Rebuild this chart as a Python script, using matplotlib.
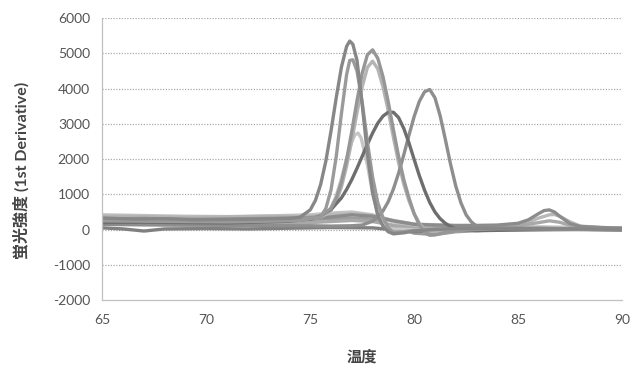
import matplotlib
matplotlib.use('Agg')
import matplotlib.pyplot as plt

plt.rcParams['axes.unicode_minus'] = False

# melt curve derivative data
A_x = [65, 66.5, 68, 69.5, 71, 72.5, 74, 74.5, 75, 75.25, 75.5, 75.75, 76, 76.25, 76.5, 76.75, 76.9, 77.05, 77.25,
       77.5, 77.75, 78, 78.25, 78.5, 78.75, 79, 79.5, 80, 81, 82, 84, 86, 88, 90]
A_y = [330, 300, 310, 280, 290, 300, 320, 350, 560, 830, 1280, 1940, 2800, 3740, 4610, 5200, 5350, 5260, 4800,
       3550, 2150, 1050, 400, 100, -60, -120, -90, -40, 10, 30, 40, 30, 20, 0]

B_x = [65, 67, 69, 71, 73, 74.5, 75.5, 75.75, 76, 76.25, 76.5, 76.75, 76.9, 77.05, 77.25, 77.5, 77.75, 78, 78.25,
       78.5, 78.75, 79, 79.5, 80, 82, 84, 86, 88, 90]
B_y = [250, 240, 230, 220, 240, 260, 360, 600, 1130, 2070, 3290, 4400, 4800, 4820, 4500, 3610, 2490, 1490, 760,
       340, 60, -80, -60, -20, 20, 30, 20, 10, 0]

C_x = [65, 67, 69, 71, 73, 74.5, 75.5, 76, 76.25, 76.5, 76.75, 77, 77.25, 77.5, 77.75, 78, 78.25, 78.5, 78.75,
       79, 79.25, 79.5, 79.75, 80, 80.25, 80.5, 80.75, 81, 81.5, 82, 84, 86, 88, 90]
C_y = [300, 320, 290, 300, 320, 330, 360, 600, 890, 1340, 1990, 2790, 3660, 4440, 4960, 5100, 4860, 4340, 3630,
       2840, 2080, 1420, 900, 450, 140, -80, -160, -150, -80, -20, 30, 40, 20, 0]

D_x = [65, 67, 69, 71, 73, 75, 75.5, 75.75, 76, 76.25, 76.5, 76.75, 77, 77.15, 77.3, 77.45, 77.75, 78, 78.25,
       78.5, 78.75, 79, 80, 82, 84, 86, 88, 90]
D_y = [280, 270, 260, 270, 290, 320, 350, 440, 630, 960, 1450, 2010, 2500, 2690, 2740, 2600, 1840, 1030, 450,
       150, 50, 20, 0, 10, 20, 10, 0, -10]

E_x = [65, 67, 69, 71, 73, 74, 75, 75.5, 76, 76.5, 76.75, 77, 77.25, 77.5, 77.75, 78, 78.25, 78.5, 78.75, 79,
       79.25, 79.5, 79.75, 80, 80.25, 80.5, 80.75, 81, 81.25, 81.5, 81.75, 82, 83, 84, 86, 88, 90]
E_y = [200, 210, 200, 190, 220, 240, 300, 390, 570, 900, 1140, 1420, 1740, 2080, 2420, 2740, 3020, 3220, 3330,
       3330, 3180, 2870, 2460, 1990, 1530, 1120, 770, 500, 310, 180, 90, 20, -30, -20, 0, 10, 0]

F_x = [65, 67, 69, 71, 73, 75, 76, 77, 77.5, 78, 78.25, 78.5, 78.75, 79, 79.25, 79.5, 79.75, 80, 80.25, 80.5,
       80.75, 81, 81.25, 81.5, 81.75, 82, 82.25, 82.5, 82.75, 83, 83.5, 84, 86, 88, 90]
F_y = [150, 140, 130, 120, 110, 110, 100, 110, 130, 240, 360, 530, 790, 1150, 1600, 2120, 2680, 3210, 3640, 3910,
       3975, 3740, 3230, 2560, 1860, 1240, 760, 420, 220, 100, 20, 0, 0, 10, 0]

G_x = [65, 67, 69, 71, 73, 75, 75.5, 76, 76.25, 76.5, 76.75, 77, 77.25, 77.5, 77.75, 78, 78.25, 78.5, 78.75,
       79, 79.25, 79.5, 79.75, 80, 80.25, 80.5, 81, 82, 84, 86, 88, 90]
G_y = [380, 370, 350, 360, 380, 360, 370, 560, 800, 1210, 1800, 2530, 3320, 4050, 4600, 4780, 4560, 4050, 3380,
       2620, 1900, 1290, 820, 450, 180, 0, -60, 0, 20, 10, 0, -10]

H_x = [65, 66, 67, 68, 70, 72, 74, 75, 76, 77, 78, 79, 80, 81, 82, 83, 84, 85, 85.5, 86, 86.25, 86.5, 86.75, 87,
       87.5, 88, 89, 90]
H_y = [250, 240, 200, 230, 220, 230, 260, 300, 360, 420, 380, 250, 150, 130, 120, 120, 130, 180, 280, 460, 540,
       560, 500, 380, 170, 90, 60, 40]

I_x = [65, 67, 69, 71, 73, 75, 76, 77, 78, 79, 80, 82, 84, 85, 85.5, 86, 86.5, 86.75, 87, 87.5, 88, 89, 90]
I_y = [350, 340, 330, 320, 340, 380, 420, 450, 400, 260, 160, 110, 110, 140, 220, 330, 420, 430, 380, 220, 100,
       60, 50]

J_x = [65, 67, 69, 71, 73, 75, 77, 78, 79, 80, 82, 84, 85, 86, 86.5, 87, 87.5, 88, 90]
J_y = [150, 140, 130, 150, 160, 200, 260, 230, 120, 40, 60, 80, 110, 200, 250, 210, 120, 60, 30]

K_x = [65, 66, 67, 68, 70, 72, 74, 76, 78, 79, 80, 81, 82, 84, 86, 88, 90]
K_y = [50, 20, -40, 20, 30, 20, 40, 60, 50, 0, -60, -30, 0, 20, 30, 20, 30]

L_x = [65, 67, 69, 71, 73, 75, 76, 77, 78, 79, 80, 82, 84, 86, 88, 90]
L_y = [420, 400, 380, 370, 390, 420, 470, 500, 420, 220, 80, 60, 70, 80, 60, 40]

M_x = [65, 67, 69, 71, 73, 75, 77, 78, 79, 80, 81, 82, 84, 86, 88, 90]
M_y = [300, 280, 260, 250, 270, 290, 330, 300, 100, -100, -140, -60, 0, 20, 10, 0]

x_ticks = [65, 70, 75, 80, 85, 90]
y_ticks = [-2000, -1000, 0, 1000, 2000, 3000, 4000, 5000, 6000]

curves = [
    (L_x, L_y, '#c2c2c2'),
    (I_x, I_y, '#b8b8b8'),
    (M_x, M_y, '#9c9c9c'),
    (J_x, J_y, '#a8a8a8'),
    (K_x, K_y, '#808080'),
    (H_x, H_y, '#8c8c8c'),
    (D_x, D_y, '#c6c6c6'),
    (G_x, G_y, '#b4b4b4'),
    (F_x, F_y, '#8e8e8e'),
    (E_x, E_y, '#6e6e6e'),
    (C_x, C_y, '#969696'),
    (B_x, B_y, '#9a9a9a'),
    (A_x, A_y, '#878787'),
]

fig = plt.figure(figsize=(6.36, 3.78), dpi=100)
ax = fig.add_axes([0.161, 0.206, 0.817, 0.746])

for yv in y_ticks[1:]:
    ax.axhline(yv, color='#aaaaaa', lw=0.9, ls=(0, (1, 1.2)), zorder=1)

for xs, ys, c in curves:
    ax.plot(xs, ys, color=c, lw=2.4, solid_joinstyle='round', solid_capstyle='round', zorder=2)

ax.set_xlim(65, 90)
ax.set_ylim(-2000, 6000)
ax.set_xticks(x_ticks)
ax.set_yticks(y_ticks)
for s in ['top', 'right']:
    ax.spines[s].set_visible(False)
for s in ['left', 'bottom']:
    ax.spines[s].set_color('#c0c0c0')
    ax.spines[s].set_linewidth(0.9)
ax.tick_params(length=0, labelsize=10, colors='#555555')
ax.tick_params(axis='x', pad=10)
ax.tick_params(axis='y', pad=9)
for lab in ax.get_xticklabels() + ax.get_yticklabels():
    lab.set_family(['Lato', 'DejaVu Sans'])

ax.set_ylabel('蛍光強度 (1st Derivative)', family=['Lato', 'Noto Sans CJK JP'],
              fontsize=11.5, fontweight='bold', color='#444444')
ax.yaxis.set_label_coords(-0.14, 0.46)
ax.set_xlabel('温度', family=['Noto Sans CJK JP'], fontsize=11, fontweight='bold',
              color='#444444', labelpad=16)

fig.savefig('out.png', dpi=100)
